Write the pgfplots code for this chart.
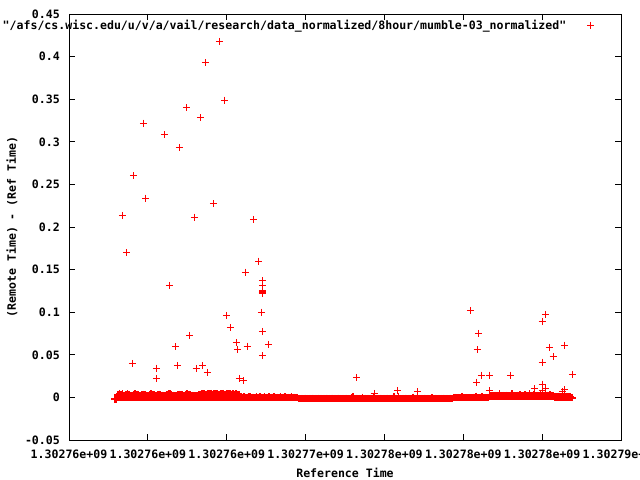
\documentclass[border=0pt]{standalone}
\usepackage{fontspec}
\setmonofont{DejaVu Sans Mono}
\renewcommand{\familydefault}{\ttdefault}
\usepackage{pgfplots}
\pgfplotsset{compat=1.18}
\usepackage{pgfplotstable}

% dense band of points near zero: x (ks after 1302755000), low and high value
\pgfplotstableread[row sep=\\]{
x lo hi \\
2.9 -0.0020 -0.0018 \\ 3.0 -0.0020 -0.0012 \\ 3.1 -0.0005 0.0030 \\ 3.2 -0.0005 0.0048 \\ 3.3 -0.0005 0.0034 \\
3.4 -0.0005 0.0040 \\ 3.5 -0.0005 0.0026 \\ 3.6 -0.0005 0.0031 \\ 3.7 -0.0005 0.0040 \\ 3.8 -0.0005 0.0037 \\
3.9 -0.0005 0.0022 \\ 4.0 -0.0005 0.0028 \\ 4.1 -0.0005 0.0036 \\ 4.2 -0.0005 0.0041 \\ 4.3 -0.0005 0.0039 \\
4.4 -0.0005 0.0030 \\ 4.5 -0.0005 0.0024 \\ 4.6 -0.0005 0.0033 \\ 4.7 -0.0005 0.0038 \\ 4.8 -0.0005 0.0035 \\
4.9 -0.0005 0.0027 \\ 5.0 -0.0005 0.0023 \\ 5.1 -0.0005 0.0031 \\ 5.2 -0.0005 0.0040 \\ 5.3 -0.0005 0.0036 \\
5.4 -0.0005 0.0029 \\ 5.5 -0.0005 0.0025 \\ 5.6 -0.0005 0.0034 \\ 5.7 -0.0005 0.0039 \\ 5.8 -0.0005 0.0032 \\
5.9 -0.0005 0.0026 \\ 6.0 -0.0005 0.0024 \\ 6.1 -0.0005 0.0028 \\ 6.2 -0.0005 0.0035 \\ 6.3 -0.0005 0.0041 \\
6.4 -0.0005 0.0040 \\ 6.5 -0.0005 0.0033 \\ 6.6 -0.0005 0.0027 \\ 6.7 -0.0005 0.0022 \\ 6.8 -0.0005 0.0021 \\
6.9 -0.0005 0.0030 \\ 7.0 -0.0005 0.0038 \\ 7.1 -0.0005 0.0036 \\ 7.2 -0.0005 0.0029 \\ 7.3 -0.0005 0.0024 \\
7.4 -0.0005 0.0033 \\ 7.5 -0.0005 0.0042 \\ 7.6 -0.0005 0.0037 \\ 7.7 -0.0005 0.0030 \\ 7.8 -0.0005 0.0026 \\
7.9 -0.0005 0.0023 \\ 8.0 -0.0005 0.0022 \\ 8.1 -0.0005 0.0025 \\ 8.2 -0.0005 0.0031 \\ 8.3 -0.0005 0.0038 \\
8.4 -0.0005 0.0042 \\ 8.5 -0.0005 0.0040 \\ 8.6 -0.0005 0.0044 \\ 8.7 -0.0005 0.0039 \\ 8.8 -0.0005 0.0043 \\
8.9 -0.0005 0.0041 \\ 9.0 -0.0005 0.0046 \\ 9.1 -0.0005 0.0038 \\ 9.2 -0.0005 0.0044 \\ 9.3 -0.0005 0.0040 \\
9.4 -0.0005 0.0045 \\ 9.5 -0.0005 0.0037 \\ 9.6 -0.0005 0.0043 \\ 9.7 -0.0005 0.0041 \\ 9.8 -0.0005 0.0046 \\
9.9 -0.0005 0.0039 \\ 10.0 -0.0005 0.0044 \\ 10.1 -0.0005 0.0040 \\ 10.2 -0.0005 0.0045 \\ 10.3 -0.0005 0.0038 \\
10.4 -0.0005 0.0042 \\ 10.5 -0.0005 0.0036 \\ 10.6 -0.0005 0.0041 \\ 10.7 -0.0005 0.0034 \\ 10.8 -0.0005 0.0030 \\
10.9 -0.0005 0.0006 \\ 11.0 -0.0005 0.0003 \\ 11.1 -0.0005 0.0008 \\ 11.2 -0.0005 0.0004 \\ 11.3 -0.0005 0.0002 \\
11.4 -0.0005 0.0005 \\ 11.5 -0.0005 0.0009 \\ 11.6 -0.0005 0.0003 \\ 11.7 -0.0005 0.0004 \\ 11.8 -0.0005 0.0002 \\
11.9 -0.0005 0.0006 \\ 12.0 -0.0005 0.0003 \\ 12.1 -0.0005 0.0005 \\ 12.2 -0.0005 0.0002 \\ 12.3 -0.0005 0.0004 \\
12.4 -0.0005 0.0007 \\ 12.5 -0.0005 0.0003 \\ 12.6 -0.0005 0.0002 \\ 12.7 -0.0005 0.0005 \\ 12.8 -0.0005 0.0004 \\
12.9 -0.0005 0.0002 \\ 13.0 -0.0005 0.0006 \\ 13.1 -0.0005 0.0003 \\ 13.2 -0.0005 0.0002 \\ 13.3 -0.0005 0.0004 \\
13.4 -0.0005 0.0008 \\ 13.5 -0.0005 0.0003 \\ 13.6 -0.0005 0.0002 \\ 13.7 -0.0005 0.0005 \\ 13.8 -0.0005 0.0003 \\
13.9 -0.0005 0.0002 \\ 14.0 -0.0005 0.0004 \\ 14.1 -0.0005 0.0006 \\ 14.2 -0.0005 0.0003 \\ 14.3 -0.0005 0.0002 \\
14.4 -0.0005 0.0001 \\ 14.5 -0.0006 0.0000 \\ 14.6 -0.0015 -0.0010 \\ 14.7 -0.0015 -0.0010 \\ 14.8 -0.0015 -0.0011 \\
14.9 -0.0015 -0.0010 \\ 15.0 -0.0015 -0.0009 \\ 15.1 -0.0015 -0.0010 \\ 15.2 -0.0015 -0.0011 \\ 15.3 -0.0015 -0.0010 \\
15.4 -0.0015 -0.0008 \\ 15.5 -0.0015 -0.0010 \\ 15.6 -0.0015 -0.0011 \\ 15.7 -0.0015 -0.0010 \\ 15.8 -0.0015 -0.0009 \\
15.9 -0.0015 -0.0010 \\ 16.0 -0.0015 -0.0011 \\ 16.1 -0.0015 -0.0010 \\ 16.2 -0.0015 -0.0010 \\ 16.3 -0.0015 -0.0009 \\
16.4 -0.0015 -0.0010 \\ 16.5 -0.0015 -0.0011 \\ 16.6 -0.0015 -0.0010 \\ 16.7 -0.0015 -0.0008 \\ 16.8 -0.0015 -0.0010 \\
16.9 -0.0015 -0.0011 \\ 17.0 -0.0015 -0.0010 \\ 17.1 -0.0015 -0.0009 \\ 17.2 -0.0015 -0.0010 \\ 17.3 -0.0015 -0.0010 \\
17.4 -0.0015 -0.0011 \\ 17.5 -0.0015 -0.0010 \\ 17.6 -0.0015 -0.0009 \\ 17.7 -0.0015 -0.0010 \\ 17.8 -0.0015 -0.0010 \\
17.9 -0.0015 -0.0006 \\ 18.0 -0.0015 0.0012 \\ 18.1 -0.0015 -0.0010 \\ 18.2 -0.0015 -0.0009 \\ 18.3 -0.0015 -0.0010 \\
18.4 -0.0015 -0.0011 \\ 18.5 -0.0015 -0.0010 \\ 18.6 -0.0015 0.0004 \\ 18.7 -0.0015 -0.0010 \\ 18.8 -0.0015 -0.0009 \\
18.9 -0.0015 -0.0010 \\ 19.0 -0.0015 -0.0011 \\ 19.1 -0.0015 -0.0010 \\ 19.2 -0.0015 -0.0008 \\ 19.3 -0.0015 0.0002 \\
19.4 -0.0015 -0.0010 \\ 19.5 -0.0015 -0.0011 \\ 19.6 -0.0015 -0.0010 \\ 19.7 -0.0015 -0.0009 \\ 19.8 -0.0015 -0.0010 \\
19.9 -0.0015 -0.0010 \\ 20.0 -0.0015 -0.0011 \\ 20.1 -0.0015 -0.0010 \\ 20.2 -0.0015 -0.0009 \\ 20.3 -0.0015 -0.0010 \\
20.4 -0.0015 -0.0010 \\ 20.5 -0.0015 -0.0008 \\ 20.6 -0.0015 0.0010 \\ 20.7 -0.0015 -0.0010 \\ 20.8 -0.0015 -0.0009 \\
20.9 -0.0015 0.0006 \\ 21.0 -0.0015 -0.0010 \\ 21.1 -0.0015 -0.0011 \\ 21.2 -0.0015 -0.0010 \\ 21.3 -0.0015 -0.0009 \\
21.4 -0.0015 -0.0010 \\ 21.5 -0.0015 -0.0010 \\ 21.6 -0.0015 -0.0011 \\ 21.7 -0.0015 -0.0010 \\ 21.8 -0.0015 0.0004 \\
21.9 -0.0015 -0.0010 \\ 22.0 -0.0015 -0.0009 \\ 22.1 -0.0015 0.0002 \\ 22.2 -0.0015 -0.0010 \\ 22.3 -0.0015 -0.0011 \\
22.4 -0.0015 -0.0010 \\ 22.5 -0.0015 -0.0009 \\ 22.6 -0.0015 -0.0010 \\ 22.7 -0.0015 -0.0010 \\ 22.8 -0.0015 -0.0011 \\
22.9 -0.0015 -0.0010 \\ 23.0 -0.0015 -0.0006 \\ 23.1 -0.0015 -0.0010 \\ 23.2 -0.0015 -0.0009 \\ 23.3 -0.0015 -0.0010 \\
23.4 -0.0015 -0.0010 \\ 23.5 -0.0015 -0.0011 \\ 23.6 -0.0015 -0.0010 \\ 23.7 -0.0015 -0.0009 \\ 23.8 -0.0015 -0.0010 \\
23.9 -0.0015 -0.0010 \\ 24.0 -0.0015 -0.0011 \\ 24.1 -0.0015 -0.0010 \\ 24.2 -0.0015 -0.0009 \\ 24.3 -0.0015 -0.0010 \\
24.4 -0.0007 -0.0002 \\ 24.5 -0.0007 -0.0001 \\ 24.6 -0.0007 -0.0002 \\ 24.7 -0.0007 0.0000 \\ 24.8 -0.0007 -0.0002 \\
24.9 -0.0007 0.0012 \\ 25.0 -0.0007 -0.0001 \\ 25.1 -0.0007 -0.0002 \\ 25.2 -0.0007 0.0001 \\ 25.3 -0.0007 -0.0002 \\
25.4 -0.0007 -0.0001 \\ 25.5 -0.0007 -0.0002 \\ 25.6 -0.0007 0.0002 \\ 25.7 -0.0007 -0.0001 \\ 25.8 -0.0007 0.0015 \\
25.9 -0.0007 -0.0002 \\ 26.0 -0.0007 0.0000 \\ 26.1 -0.0007 -0.0001 \\ 26.2 -0.0007 0.0008 \\ 26.3 -0.0007 -0.0002 \\
26.4 -0.0007 0.0001 \\ 26.5 -0.0007 -0.0001 \\ 26.6 -0.0007 0.0000 \\ 26.7 0.0010 0.0018 \\ 26.8 0.0010 0.0022 \\
26.9 0.0010 0.0019 \\ 27.0 0.0010 0.0025 \\ 27.1 0.0010 0.0020 \\ 27.2 0.0010 0.0018 \\ 27.3 0.0010 0.0042 \\
27.4 0.0010 0.0021 \\ 27.5 0.0010 0.0024 \\ 27.6 0.0010 0.0019 \\ 27.7 0.0010 0.0028 \\ 27.8 0.0010 0.0022 \\
27.9 0.0010 0.0020 \\ 28.0 0.0010 0.0026 \\ 28.1 0.0010 0.0045 \\ 28.2 0.0010 0.0023 \\ 28.3 0.0010 0.0019 \\
28.4 0.0010 0.0027 \\ 28.5 0.0010 0.0021 \\ 28.6 0.0010 0.0030 \\ 28.7 0.0010 0.0024 \\ 28.8 0.0010 0.0020 \\
28.9 0.0010 0.0032 \\ 29.0 0.0010 0.0026 \\ 29.1 0.0010 0.0022 \\ 29.2 0.0010 0.0040 \\ 29.3 0.0010 0.0025 \\
29.4 0.0010 0.0021 \\ 29.5 0.0010 0.0029 \\ 29.6 0.0010 0.0023 \\ 29.7 0.0010 0.0027 \\ 29.8 0.0010 0.0020 \\
29.9 0.0010 0.0031 \\ 30.0 0.0010 0.0024 \\ 30.1 0.0010 0.0028 \\ 30.2 0.0010 0.0022 \\ 30.3 0.0010 0.0026 \\
30.4 0.0010 0.0021 \\ 30.5 0.0010 0.0030 \\ 30.6 0.0010 0.0023 \\ 30.7 0.0010 0.0019 \\ 30.8 -0.0006 0.0012 \\
30.9 -0.0006 0.0010 \\ 31.0 -0.0006 0.0014 \\ 31.1 -0.0006 0.0011 \\ 31.2 -0.0006 0.0013 \\ 31.3 -0.0006 0.0010 \\
31.4 -0.0006 0.0015 \\ 31.5 -0.0006 0.0011 \\ 31.6 -0.0006 0.0012 \\ 31.7 -0.0006 0.0009 \\ 31.8 -0.0006 0.0006 \\
31.9 -0.0006 0.0000 \\
}\band

% scattered outliers
\pgfplotstableread[row sep=\\]{
x y \\
3.380 0.2137 \\ 3.633 0.170 \\ 4.014 0.040 \\ 4.077 0.260 \\ 4.711 0.322 \\ 4.851 0.234 \\
5.536 0.0345 \\ 5.536 0.0224 \\ 6.043 0.308 \\ 6.360 0.1315 \\ 6.740 0.0592 \\ 6.867 0.0369 \\
6.994 0.293 \\ 7.438 0.340 \\ 7.672 0.0729 \\ 7.945 0.2117 \\ 8.053 0.0341 \\ 8.325 0.328 \\
8.452 0.0372 \\ 8.643 0.393 \\ 8.769 0.0295 \\ 9.162 0.227 \\ 9.530 0.418 \\ 9.847 0.349 \\
9.974 0.0964 \\ 10.228 0.0823 \\ 10.589 0.0642 \\ 10.672 0.0564 \\ 10.798 0.0224 \\ 11.052 0.0196 \\
11.179 0.147 \\ 11.287 0.0603 \\ 11.686 0.209 \\ 12.028 0.160 \\ 12.257 0.137 \\ 12.257 0.131 \\
12.257 0.1252 \\ 12.257 0.1244 \\ 12.257 0.1236 \\ 12.257 0.1228 \\ 12.257 0.1220 \\ 12.257 0.0776 \\
12.193 0.100 \\ 12.257 0.0486 \\ 12.637 0.0623 \\ 18.217 0.0236 \\ 19.339 0.0048 \\ 20.817 0.0079 \\
22.085 0.0067 \\ 25.446 0.1022 \\ 25.826 0.018 \\ 25.870 0.056 \\ 25.953 0.0752 \\ 26.143 0.026 \\
26.650 0.026 \\ 26.650 0.0079 \\ 27.982 0.026 \\ 29.504 0.0099 \\ 29.992 0.0889 \\ 29.992 0.0415 \\
29.992 0.0157 \\ 29.992 0.008 \\ 30.201 0.0975 \\ 30.201 0.0099 \\ 30.455 0.0588 \\ 30.689 0.0482 \\
31.279 0.0067 \\ 31.406 0.0615 \\ 31.406 0.009 \\ 31.913 0.0271 \\
}\outliers

\begin{document}
\begin{tikzpicture}
\useasboundingbox (0,0) rectangle (640bp,480bp);
\begin{axis}[
  at={(69bp,40bp)}, anchor=south west,
  scale only axis, width=552bp, height=426bp,
  xmin=0, xmax=35, ymin=-0.05, ymax=0.45,
  xtick={0,5,10,15,20,25,30,35},
  xticklabels={1.30276e+09,1.30276e+09,1.30276e+09,1.30277e+09,1.30278e+09,1.30278e+09,1.30278e+09,1.30279e+09},
  ytick={-0.05,0,0.05,0.1,0.15,0.2,0.25,0.3,0.35,0.4,0.45},
  yticklabels={-0.05,0,0.05,0.1,0.15,0.2,0.25,0.3,0.35,0.4,0.45},
  tick align=inside, tick pos=both, major tick length=6bp,
  every tick/.style={black, line width=0.8bp},
  axis line style={black, line width=0.8bp},
  font=\ttfamily\bfseries\fontsize{11.6}{13}\selectfont,
  xticklabel style={anchor=base, inner sep=0pt, yshift=-18bp},
  yticklabel style={anchor=east, inner sep=0pt, xshift=-9bp},
  xlabel={Reference Time},
  ylabel={(Remote Time) - (Ref Time)},
  xlabel style={at={(axis description cs:0.5,-0.0775)}, anchor=center},
  ylabel style={at={(axis description cs:-0.1033,0.5)}, anchor=center},
  legend plot pos=right,
  legend cell align=right,
  legend style={draw=none, fill=none, inner sep=0pt, column sep=19bp, at={(axis description cs:0.952,0.974)}, anchor=east, font=\ttfamily\bfseries\fontsize{11.6}{13}\selectfont},
  clip=false,
]
\addplot[only marks, mark=+, color=red, mark size=3.5bp, mark options={line width=1bp}] table[x=x, y=y] {\outliers};
\addlegendentry{"/afs/cs.wisc.edu/u/v/a/vail/research/data\_normalized/8hour/mumble-03\_normalized"}
\addplot[only marks, mark=+, color=red, mark size=3.5bp, mark options={line width=1.6bp}, forget plot] table[x=x, y=lo] {\band};
\addplot[only marks, mark=+, color=red, mark size=3.5bp, mark options={line width=1.6bp}, forget plot] table[x=x, y=hi] {\band};
\end{axis}
\end{tikzpicture}
\end{document}
